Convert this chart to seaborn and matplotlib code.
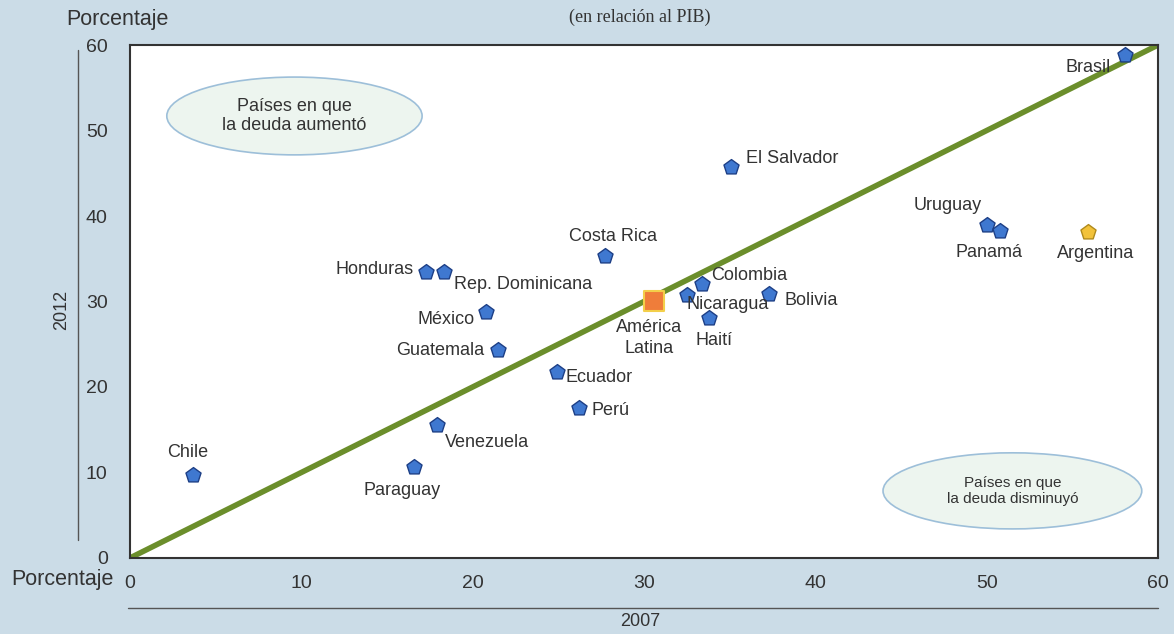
import numpy as np
import pandas as pd
import matplotlib.pyplot as plt
import seaborn as sns
from matplotlib.patches import Ellipse
from matplotlib.lines import Line2D

# ── Data ──────────────────────────────────────────────────────
countries = ["Chile", "Paraguay", "Venezuela", "Guatemala", "México", "Honduras",
             "Rep. Dominicana", "Costa Rica", "Ecuador", "Perú", "América\nLatina",
             "Nicaragua", "Colombia", "Haití", "Bolivia", "El Salvador",
             "Uruguay", "Panamá", "Argentina", "Brasil"]
debt_2007 = [3.7, 16.6, 17.9, 21.5, 20.8, 17.3, 18.3, 27.7, 24.9, 26.2, 30.6,
             32.5, 33.4, 33.8, 37.3, 35.1, 50.0, 50.8, 55.9, 58.1]
debt_2012 = [9.7, 10.6, 15.6, 24.3, 28.8, 33.4, 33.4, 35.3, 21.8, 17.5, 30.1,
             30.8, 32.0, 28.1, 30.9, 45.7, 39.0, 38.3, 38.1, 58.8]
group = ["pais"] * 10 + ["region"] + ["pais"] * 7 + ["arg", "pais"]

df = pd.DataFrame({"pais": countries, "x": debt_2007, "y": debt_2012, "grupo": group})

# label offsets in pixels (dx, dy, ha)
label_pos = {
    "Chile": (-6, 23, "center"), "Paraguay": (-12, -23, "center"),
    "Venezuela": (8, -18, "left"), "Guatemala": (-14, 0, "right"),
    "México": (-12, -8, "right"), "Honduras": (-13, 3, "right"),
    "Rep. Dominicana": (10, -12, "left"), "Costa Rica": (8, 20, "center"),
    "Ecuador": (9, -6, "left"), "Perú": (13, -2, "left"),
    "América\nLatina": (-5, -37, "center"), "Nicaragua": (0, -10, "left"),
    "Colombia": (9, 9, "left"), "Haití": (5, -23, "center"),
    "Bolivia": (15, -7, "left"), "El Salvador": (15, 9, "left"),
    "Uruguay": (-39, 19, "center"), "Panamá": (-11, -22, "center"),
    "Argentina": (8, -21, "center"), "Brasil": (-15, -12, "right"),
}

BG = "#cbdce7"
sns.set_theme(style="white")
plt.rcParams["font.family"] = ["Liberation Sans", "DejaVu Sans"]

fig = plt.figure(figsize=(11.74, 6.34), dpi=100, facecolor=BG)
ax = fig.add_axes([0.1107, 0.1199, 0.8757, 0.8091])
ax.set_facecolor("white")

# 45° reference line
ax.plot([0, 60], [0, 60], color="#6b8e2b", lw=4, solid_capstyle="butt", zorder=2)

# ellipses
for cx, cy, w, h in [(9.6, 51.7, 14.9, 9.1), (51.5, 7.85, 15.1, 8.9)]:
    ax.add_patch(Ellipse((cx, cy), w, h, facecolor="#edf5ef", edgecolor="#9dbfd9",
                         lw=1.2, zorder=1))
ax.text(9.6, 51.7, "Países en que\nla deuda aumentó", ha="center", va="center",
        fontsize=13, color="#333333", linespacing=1.2, zorder=3)
ax.text(51.5, 7.85, "Países en que\nla deuda disminuyó", ha="center", va="center",
        fontsize=11, color="#333333", linespacing=1.2, zorder=3)

sns.scatterplot(data=df[df.grupo == "pais"], x="x", y="y", marker="p", s=130,
                color="#3f78d0", edgecolor="#1d3f86", linewidth=1.0, ax=ax, zorder=4)
sns.scatterplot(data=df[df.grupo == "arg"], x="x", y="y", marker="p", s=130,
                color="#f2c23a", edgecolor="#b08a1c", linewidth=1.0, ax=ax, zorder=4)
sns.scatterplot(data=df[df.grupo == "region"], x="x", y="y", marker="s", s=220,
                color="#ef7d3a", edgecolor="#f3cf4a", linewidth=1.5, ax=ax, zorder=4)

for _, r in df.iterrows():
    dx, dy, ha = label_pos[r.pais]
    ax.annotate(r.pais, (r.x, r.y), xytext=(dx, dy), textcoords="offset pixels",
                ha=ha, va="center", fontsize=13, color="#333333", zorder=5,
                linespacing=1.3)

ax.set_xlim(0, 60)
ax.set_ylim(0, 60)
ax.set_xticks(range(0, 61, 10))
ax.set_yticks(range(0, 61, 10))
ax.tick_params(axis="x", labelsize=14, pad=12, length=0, colors="#333333")
ax.tick_params(axis="y", labelsize=14, pad=16, length=0, colors="#333333")
ax.set_xlabel("")
ax.set_ylabel("")
for s in ax.spines.values():
    s.set_color("#333333")
    s.set_linewidth(1.5)

# outer labels and rules
fig.text(117 / 1174, 1 - 20 / 634, "Porcentaje", ha="center", va="center",
         fontsize=15.5, color="#333333")
fig.text(62 / 1174, 1 - 580 / 634, "Porcentaje", ha="center", va="center",
         fontsize=15.5, color="#333333")
fig.text(62 / 1174, 1 - 310 / 634, "2012", ha="center", va="center",
         rotation=90, fontsize=13, color="#333333")
fig.text(640 / 1174, 1 - 622 / 634, "2007", ha="center", va="center",
         fontsize=13, color="#333333")
fig.text(640 / 1174, 1 - 17 / 634, "(en relación al PIB)", ha="center", va="center",
         fontsize=13, color="#333333", family=["Liberation Serif", "DejaVu Serif"])
fig.add_artist(Line2D([78 / 1174, 78 / 1174], [1 - 50 / 634, 1 - 540 / 634],
                      color="#555555", lw=1))
fig.add_artist(Line2D([128 / 1174, 1158 / 1174], [1 - 608 / 634, 1 - 608 / 634],
                      color="#555555", lw=1))

fig.savefig("out.png", dpi=100, facecolor=BG)
